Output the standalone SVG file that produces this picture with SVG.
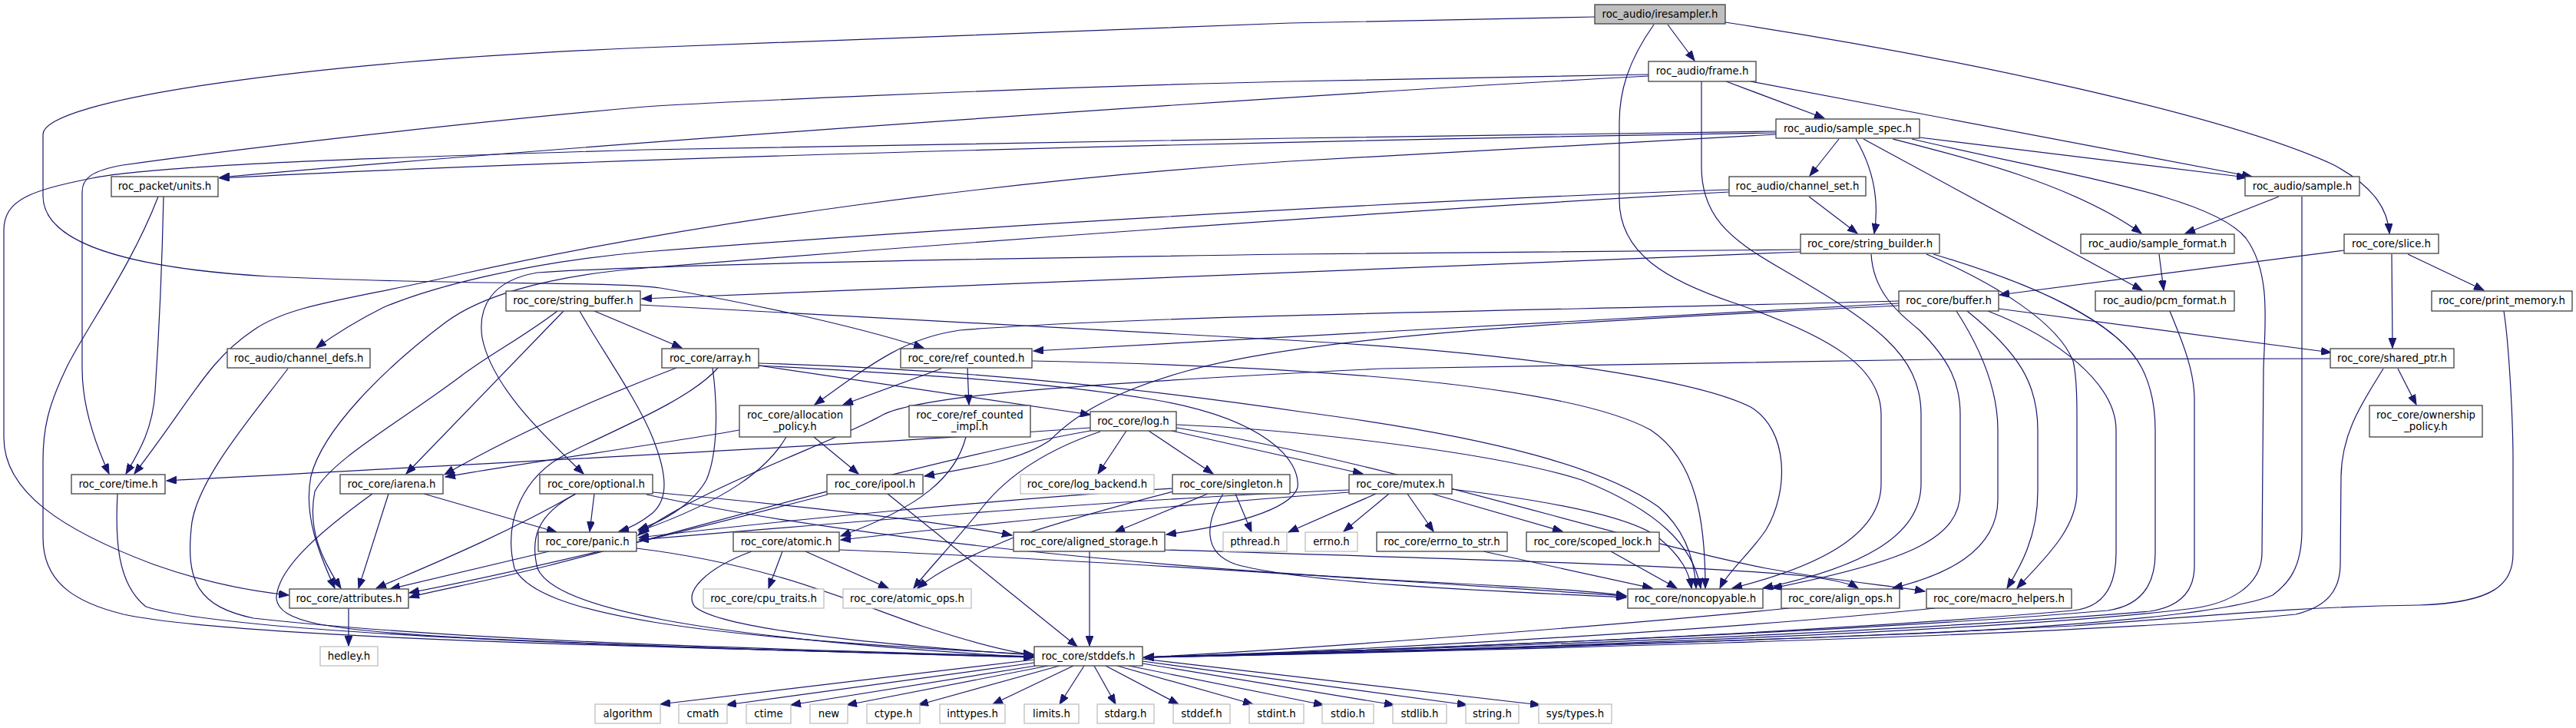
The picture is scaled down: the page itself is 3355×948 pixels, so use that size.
<svg xmlns="http://www.w3.org/2000/svg" width="3355" height="948" viewBox="0 0 3355 948">
<style>
.n rect{fill:#fff;stroke:#404040;stroke-width:1.3}
.g rect{fill:#fff;stroke:#bfbfbf;stroke-width:1.3}
.r rect{fill:#bfbfbf;stroke:#404040;stroke-width:1.3}
text{font-family:"DejaVu Sans","Liberation Sans",sans-serif;font-size:13.3px;text-anchor:middle;fill:#000}
#edges path{fill:none;stroke:#191970;stroke-width:1.2;marker-end:url(#a)}
</style>
<defs>
<marker id="a" markerUnits="userSpaceOnUse" markerWidth="14" markerHeight="10" refX="13" refY="5" orient="auto"><path d="M0,0 L13,5 L0,10 z" fill="#191970" stroke="#191970" stroke-width="1"/></marker>
</defs>
<rect width="3355" height="948" fill="#fff"/>
<g id="edges">
<path d="M2172,32 L2207,79"/>
<path d="M2077,22 L1680,30 L840,62 C400,80 56,130 56,175 L56,255 C56,320 180,350 350,360 C600,372 800,366 860,375 C950,390 1100,420 1203,453"/>
<path d="M2154,32 C2120,80 2109,120 2109,160 L2109,260 C2109,330 2170,365 2260,395 C2390,440 2450,480 2450,540 L2450,630 C2450,700 2360,740 2256,766"/>
<path d="M2247,29 C2550,75 2900,150 3040,215 C3095,245 3110,275 3112,304"/>
<path d="M2248,106 L2376,154"/>
<path d="M2280,106 L2933,230"/>
<path d="M2147,99 C1700,123 840,182 286,231"/>
<path d="M2147,97 L1680,106 C1300,115 900,135 840,139 C600,160 300,195 160,215 C120,222 107,232 107,250 L107,480 C107,530 125,580 142,617"/>
<path d="M2216,106 L2216,217 C2216,280 2250,310 2320,350 C2440,420 2502,460 2502,540 L2502,630 C2502,700 2420,740 2296,766"/>
<path d="M2395,181 L2357,229"/>
<path d="M2417,181 C2440,220 2448,260 2441,304"/>
<path d="M2500,179 L2926,231"/>
<path d="M2465,181 C2560,205 2700,240 2789,304"/>
<path d="M2427,181 L2790,378"/>
<path d="M2490,181 C2700,230 2880,255 2925,310 C2958,355 2950,420 2948,480 L2946,720 C2946,765 2900,786 2858,792 C2600,825 1800,850 1490,856"/>
<path d="M2313,171 L1680,180 L840,195 C500,205 200,215 120,232 C40,248 5,260 5,300 L5,570 C5,640 80,690 200,735 C270,760 330,770 376,775"/>
<path d="M2313,173 C1700,183 840,203 286,232"/>
<path d="M2313,175 L1680,210 C1300,235 900,290 600,357 C460,390 380,395 330,430 C270,470 250,520 175,617"/>
<path d="M213,256 C211,350 206,450 202,510 C199,560 180,590 164,617"/>
<path d="M206,256 C170,350 110,430 86,480 C62,530 56,560 56,600 L56,700 C56,760 100,785 161,800 C300,830 800,842 1346,855"/>
<path d="M2356,256 L2419,304"/>
<path d="M2252,247 C1800,262 1200,300 840,328 C680,342 560,375 500,400 C460,420 430,440 412,453"/>
<path d="M2252,250 C1800,275 1200,320 840,349 C700,360 620,390 580,420 C500,480 420,560 405,620 C395,670 415,720 436,766"/>
<path d="M2968,256 L2846,304"/>
<path d="M2998,256 L2998,690 C2998,740 2980,760 2960,775 C2900,800 2700,815 2500,825 C2000,845 1600,852 1490,856"/>
<path d="M2345,328 L836,389"/>
<path d="M2345,325 L1680,331 C1200,338 850,345 700,355 C640,365 622,400 628,440 C640,500 700,560 760,617"/>
<path d="M2437,331 C2440,380 2470,405 2500,430 C2540,470 2553,500 2553,540 L2553,640 C2553,700 2490,730 2308,766"/>
<path d="M2509,331 C2600,370 2680,420 2700,470 C2705,490 2705,520 2705,540 L2705,640 C2705,690 2660,730 2627,766"/>
<path d="M2518,331 C2650,370 2760,420 2790,480 C2805,510 2807,540 2807,560 L2807,720 C2807,770 2780,790 2745,795 C2400,825 1700,850 1490,856"/>
<path d="M2812,331 L2818,378"/>
<path d="M3053,326 L2604,384"/>
<path d="M3115,331 L3116,453"/>
<path d="M3136,331 L3235,378"/>
<path d="M2826,405 C2840,440 2858,480 2858,520 L2858,737 C2858,770 2840,790 2800,796 C2400,830 1700,850 1490,856"/>
<path d="M3261,405 C3268,450 3273,550 3273,600 L3273,720 C3273,760 3250,785 3150,788 C3000,790 2900,800 2700,815 C2200,840 1700,852 1490,856"/>
<path d="M3123,480 L3147,527"/>
<path d="M3104,480 C3080,520 3050,560 3049,620 L3048,737 C3047,770 3030,790 2990,800 C2700,830 1800,850 1490,856"/>
<path d="M3035,467 L2520,468 L1800,480 C1400,500 1200,515 1150,540 C1100,570 900,640 831,697"/>
<path d="M774,405 L888,453"/>
<path d="M726,405 C680,440 640,460 600,490 C520,550 430,600 410,640 C400,690 420,730 444,766"/>
<path d="M734,405 L529,617"/>
<path d="M755,405 C780,450 830,520 850,570 C870,620 870,650 850,668 C835,680 820,688 806,692"/>
<path d="M834,397 L1680,443 C1950,458 2200,490 2280,530 C2330,560 2330,640 2300,690 C2280,720 2250,745 2240,766"/>
<path d="M2473,395 L1346,457"/>
<path d="M2603,402 L3036,459"/>
<path d="M2473,392 C2000,405 1500,410 1250,430 C1180,440 1140,470 1061,527"/>
<path d="M2473,398 C2000,420 1700,440 1546,483 C1450,510 1400,540 1368,573 C1330,600 1260,610 1204,620"/>
<path d="M2548,405 C2590,470 2602,520 2602,560 L2602,650 C2602,720 2530,750 2465,766"/>
<path d="M2562,405 C2630,460 2654,500 2654,560 L2654,640 C2654,700 2630,740 2614,766"/>
<path d="M2589,405 C2680,440 2756,500 2756,560 L2756,720 C2756,775 2730,792 2700,795 C2300,830 1700,850 1490,856"/>
<path d="M375,480 C330,540 260,620 250,680 C240,760 260,790 330,805 C600,835 1000,845 1346,855"/>
<path d="M988,476 L1420,540"/>
<path d="M881,479 C800,510 680,560 579,618"/>
<path d="M928,479 C935,530 935,590 920,625 C900,660 860,680 831,690"/>
<path d="M935,479 C900,520 800,560 740,590 C680,620 655,680 670,740 C700,800 900,830 1346,852"/>
<path d="M988,476 C1150,485 1350,495 1500,520 C1650,545 1694,600 1690,635 C1680,665 1600,685 1519,696"/>
<path d="M988,473 C1300,482 1550,515 1700,537 C1950,570 2090,610 2160,660 C2195,690 2207,730 2209,766"/>
<path d="M1260,479 L1262,527"/>
<path d="M1226,480 L1098,527"/>
<path d="M1344,470 C1750,478 2050,505 2150,560 C2210,600 2221,680 2221,766"/>
<path d="M1060,569 L1118,617"/>
<path d="M963,560 C850,580 700,600 580,621"/>
<path d="M1024,569 C1000,610 950,650 832,692"/>
<path d="M1258,569 C1245,620 1200,660 1095,698"/>
<path d="M1467,561 L1430,617"/>
<path d="M1496,561 L1580,617"/>
<path d="M1526,561 L1775,617"/>
<path d="M1420,557 C1100,580 700,600 217,626"/>
<path d="M1433,562 C1380,580 1320,610 1280,660 C1240,710 1210,740 1190,766"/>
<path d="M1420,561 C1200,600 900,690 700,740 C620,760 560,770 533,778"/>
<path d="M1532,553 C1700,560 1950,590 2060,625 C2160,665 2205,710 2215,766"/>
<path d="M1532,557 C1800,600 2100,700 2300,740 C2400,758 2460,762 2507,770"/>
<path d="M153,643 C150,700 152,760 190,790 C300,825 800,842 1346,856"/>
<path d="M506,643 L467,766"/>
<path d="M552,643 L725,693"/>
<path d="M485,643 C420,690 360,740 360,780 C365,810 420,820 600,830 C900,845 1200,852 1346,856"/>
<path d="M774,643 L768,692"/>
<path d="M750,643 C650,700 550,740 490,766"/>
<path d="M750,643 C700,670 690,700 700,740 C720,790 900,830 1346,856"/>
<path d="M850,641 C1000,655 1200,675 1318,697"/>
<path d="M842,644 C1100,700 1500,740 1900,760 C2000,765 2080,770 2118,776"/>
<path d="M1156,643 L1403,842"/>
<path d="M1078,644 C900,690 700,740 533,772"/>
<path d="M1573,643 L1452,693"/>
<path d="M1609,643 L1630,693"/>
<path d="M1528,640 C1450,660 1380,680 1320,700 C1260,725 1220,745 1195,766"/>
<path d="M1528,636 C1300,650 1000,680 832,700"/>
<path d="M1593,643 C1570,680 1565,720 1610,735 C1700,760 1950,770 2118,778"/>
<path d="M1809,643 L1750,692"/>
<path d="M1833,643 L1867,692"/>
<path d="M1865,643 L2035,692"/>
<path d="M1792,643 L1678,693"/>
<path d="M1891,637 C2000,650 2120,670 2160,700 C2190,725 2200,745 2203,766"/>
<path d="M1757,638 C1500,648 1100,680 832,703"/>
<path d="M1757,641 C1500,660 1300,680 1095,703"/>
<path d="M715,718 L508,767"/>
<path d="M829,714 C1000,735 1100,780 1200,815 C1270,838 1310,848 1346,853"/>
<path d="M1019,718 L1001,766"/>
<path d="M1049,718 L1157,766"/>
<path d="M979,718 C920,740 890,770 905,790 C940,820 1150,840 1346,853"/>
<path d="M1093,716 C1400,728 1800,755 2118,776"/>
<path d="M1419,718 L1419,841"/>
<path d="M1517,716 C1800,725 2200,735 2350,750 C2390,755 2410,760 2420,766"/>
<path d="M1932,718 L2152,766"/>
<path d="M2098,718 L2184,766"/>
<path d="M454,792 L454,841"/>
<path d="M2330,792 C2100,815 1700,845 1490,856"/>
<path d="M2520,792 C2200,825 1700,850 1490,856"/>
<path d="M1347,859 L860,917"/>
<path d="M1347,863 L946,918"/>
<path d="M1349,867 L1030,918"/>
<path d="M1365,867 L1103,918"/>
<path d="M1380,867 L1196,918"/>
<path d="M1398,867 L1293,917"/>
<path d="M1412,867 L1380,917"/>
<path d="M1425,867 L1453,917"/>
<path d="M1440,867 L1535,917"/>
<path d="M1455,867 L1632,917"/>
<path d="M1470,867 L1724,918"/>
<path d="M1488,864 L1816,918"/>
<path d="M1488,861 L1911,918"/>
<path d="M1488,858 L2006,918"/>
</g>
<g id="n_iresampler" class="r"><rect x="2077" y="6" width="170" height="25"/><text x="2162" y="23">roc_audio/iresampler.h</text></g>
<g id="n_frame" class="n"><rect x="2147" y="80" width="140" height="26"/><text x="2217" y="97">roc_audio/frame.h</text></g>
<g id="n_sample_spec" class="n"><rect x="2313" y="155" width="187" height="25"/><text x="2406.5" y="172">roc_audio/sample_spec.h</text></g>
<g id="n_units" class="n"><rect x="145" y="230" width="139" height="26"/><text x="214.5" y="247">roc_packet/units.h</text></g>
<g id="n_channel_set" class="n"><rect x="2252" y="230" width="178" height="25"/><text x="2341" y="247">roc_audio/channel_set.h</text></g>
<g id="n_sample" class="n"><rect x="2924" y="230" width="149" height="25"/><text x="2998.5" y="247">roc_audio/sample.h</text></g>
<g id="n_string_builder" class="n"><rect x="2345" y="305" width="181" height="25"/><text x="2435.5" y="322">roc_core/string_builder.h</text></g>
<g id="n_sample_format" class="n"><rect x="2710" y="305" width="200" height="25"/><text x="2810" y="322">roc_audio/sample_format.h</text></g>
<g id="n_slice" class="n"><rect x="3053" y="305" width="123" height="25"/><text x="3114.5" y="322">roc_core/slice.h</text></g>
<g id="n_string_buffer" class="n"><rect x="659" y="379" width="175" height="26"/><text x="746.5" y="396">roc_core/string_buffer.h</text></g>
<g id="n_buffer" class="n"><rect x="2473" y="379" width="130" height="26"/><text x="2538" y="396">roc_core/buffer.h</text></g>
<g id="n_pcm_format" class="n"><rect x="2729" y="379" width="181" height="26"/><text x="2819.5" y="396">roc_audio/pcm_format.h</text></g>
<g id="n_print_memory" class="n"><rect x="3167" y="379" width="183" height="26"/><text x="3258.5" y="396">roc_core/print_memory.h</text></g>
<g id="n_channel_defs" class="n"><rect x="296" y="454" width="186" height="25"/><text x="389" y="471">roc_audio/channel_defs.h</text></g>
<g id="n_array" class="n"><rect x="862" y="454" width="126" height="25"/><text x="925" y="471">roc_core/array.h</text></g>
<g id="n_ref_counted" class="n"><rect x="1173" y="454" width="171" height="25"/><text x="1258.5" y="471">roc_core/ref_counted.h</text></g>
<g id="n_shared_ptr" class="n"><rect x="3035" y="454" width="161" height="25"/><text x="3115.5" y="471">roc_core/shared_ptr.h</text></g>
<g id="n_allocation_policy" class="n"><rect x="963" y="528" width="145" height="41"/><text x="1035.5" y="545">roc_core/allocation</text><text x="1035.5" y="560">_policy.h</text></g>
<g id="n_ref_counted_impl" class="n"><rect x="1184" y="528" width="158" height="41"/><text x="1263" y="545">roc_core/ref_counted</text><text x="1263" y="560">_impl.h</text></g>
<g id="n_log" class="n"><rect x="1420" y="536" width="112" height="25"/><text x="1476" y="553">roc_core/log.h</text></g>
<g id="n_ownership_policy" class="n"><rect x="3086" y="528" width="147" height="41"/><text x="3159.5" y="545">roc_core/ownership</text><text x="3159.5" y="560">_policy.h</text></g>
<g id="n_time" class="n"><rect x="93" y="618" width="122" height="25"/><text x="154" y="635">roc_core/time.h</text></g>
<g id="n_iarena" class="n"><rect x="443" y="618" width="134" height="25"/><text x="510" y="635">roc_core/iarena.h</text></g>
<g id="n_optional" class="n"><rect x="703" y="618" width="147" height="25"/><text x="776.5" y="635">roc_core/optional.h</text></g>
<g id="n_ipool" class="n"><rect x="1077" y="618" width="125" height="25"/><text x="1139.5" y="635">roc_core/ipool.h</text></g>
<g id="n_log_backend" class="g"><rect x="1329" y="618" width="174" height="25"/><text x="1416" y="635">roc_core/log_backend.h</text></g>
<g id="n_singleton" class="n"><rect x="1527" y="618" width="153" height="25"/><text x="1603.5" y="635">roc_core/singleton.h</text></g>
<g id="n_mutex" class="n"><rect x="1757" y="618" width="134" height="25"/><text x="1824" y="635">roc_core/mutex.h</text></g>
<g id="n_panic" class="n"><rect x="701" y="693" width="128" height="25"/><text x="765" y="710">roc_core/panic.h</text></g>
<g id="n_atomic" class="n"><rect x="955" y="693" width="138" height="25"/><text x="1024" y="710">roc_core/atomic.h</text></g>
<g id="n_aligned_storage" class="n"><rect x="1320" y="693" width="197" height="25"/><text x="1418.5" y="710">roc_core/aligned_storage.h</text></g>
<g id="n_pthread" class="g"><rect x="1593" y="693" width="83" height="25"/><text x="1634.5" y="710">pthread.h</text></g>
<g id="n_errno" class="g"><rect x="1700" y="693" width="68" height="25"/><text x="1734" y="710">errno.h</text></g>
<g id="n_errno_to_str" class="n"><rect x="1793" y="693" width="170" height="25"/><text x="1878" y="710">roc_core/errno_to_str.h</text></g>
<g id="n_scoped_lock" class="n"><rect x="1988" y="693" width="173" height="25"/><text x="2074.5" y="710">roc_core/scoped_lock.h</text></g>
<g id="n_attributes" class="n"><rect x="377" y="767" width="155" height="25"/><text x="454.5" y="784">roc_core/attributes.h</text></g>
<g id="n_cpu_traits" class="g"><rect x="916" y="767" width="157" height="25"/><text x="994.5" y="784">roc_core/cpu_traits.h</text></g>
<g id="n_atomic_ops" class="g"><rect x="1098" y="767" width="167" height="25"/><text x="1181.5" y="784">roc_core/atomic_ops.h</text></g>
<g id="n_noncopyable" class="n"><rect x="2120" y="767" width="176" height="25"/><text x="2208" y="784">roc_core/noncopyable.h</text></g>
<g id="n_align_ops" class="n"><rect x="2320" y="767" width="154" height="25"/><text x="2397" y="784">roc_core/align_ops.h</text></g>
<g id="n_macro_helpers" class="n"><rect x="2509" y="767" width="189" height="25"/><text x="2603.5" y="784">roc_core/macro_helpers.h</text></g>
<g id="n_hedley" class="g"><rect x="417" y="842" width="75" height="25"/><text x="454.5" y="859">hedley.h</text></g>
<g id="n_stddefs" class="n"><rect x="1347" y="842" width="141" height="25"/><text x="1417.5" y="859">roc_core/stddefs.h</text></g>
<g id="n_algorithm" class="g"><rect x="775" y="917" width="85" height="25"/><text x="817.5" y="934">algorithm</text></g>
<g id="n_cmath" class="g"><rect x="884" y="917" width="63" height="25"/><text x="915.5" y="934">cmath</text></g>
<g id="n_ctime" class="g"><rect x="972" y="917" width="58" height="25"/><text x="1001" y="934">ctime</text></g>
<g id="n_new" class="g"><rect x="1055" y="917" width="49" height="25"/><text x="1079.5" y="934">new</text></g>
<g id="n_ctype" class="g"><rect x="1129" y="917" width="69" height="25"/><text x="1163.5" y="934">ctype.h</text></g>
<g id="n_inttypes" class="g"><rect x="1224" y="917" width="85" height="25"/><text x="1266.5" y="934">inttypes.h</text></g>
<g id="n_limits" class="g"><rect x="1334" y="917" width="71" height="25"/><text x="1369.5" y="934">limits.h</text></g>
<g id="n_stdarg" class="g"><rect x="1429" y="917" width="74" height="25"/><text x="1466" y="934">stdarg.h</text></g>
<g id="n_stddef" class="g"><rect x="1528" y="917" width="74" height="25"/><text x="1565" y="934">stddef.h</text></g>
<g id="n_stdint" class="g"><rect x="1627" y="917" width="71" height="25"/><text x="1662.5" y="934">stdint.h</text></g>
<g id="n_stdio" class="g"><rect x="1722" y="917" width="67" height="25"/><text x="1755.5" y="934">stdio.h</text></g>
<g id="n_stdlib" class="g"><rect x="1814" y="917" width="70" height="25"/><text x="1849" y="934">stdlib.h</text></g>
<g id="n_string" class="g"><rect x="1909" y="917" width="69" height="25"/><text x="1943.5" y="934">string.h</text></g>
<g id="n_systypes" class="g"><rect x="2004" y="917" width="95" height="25"/><text x="2051.5" y="934">sys/types.h</text></g>
</svg>
